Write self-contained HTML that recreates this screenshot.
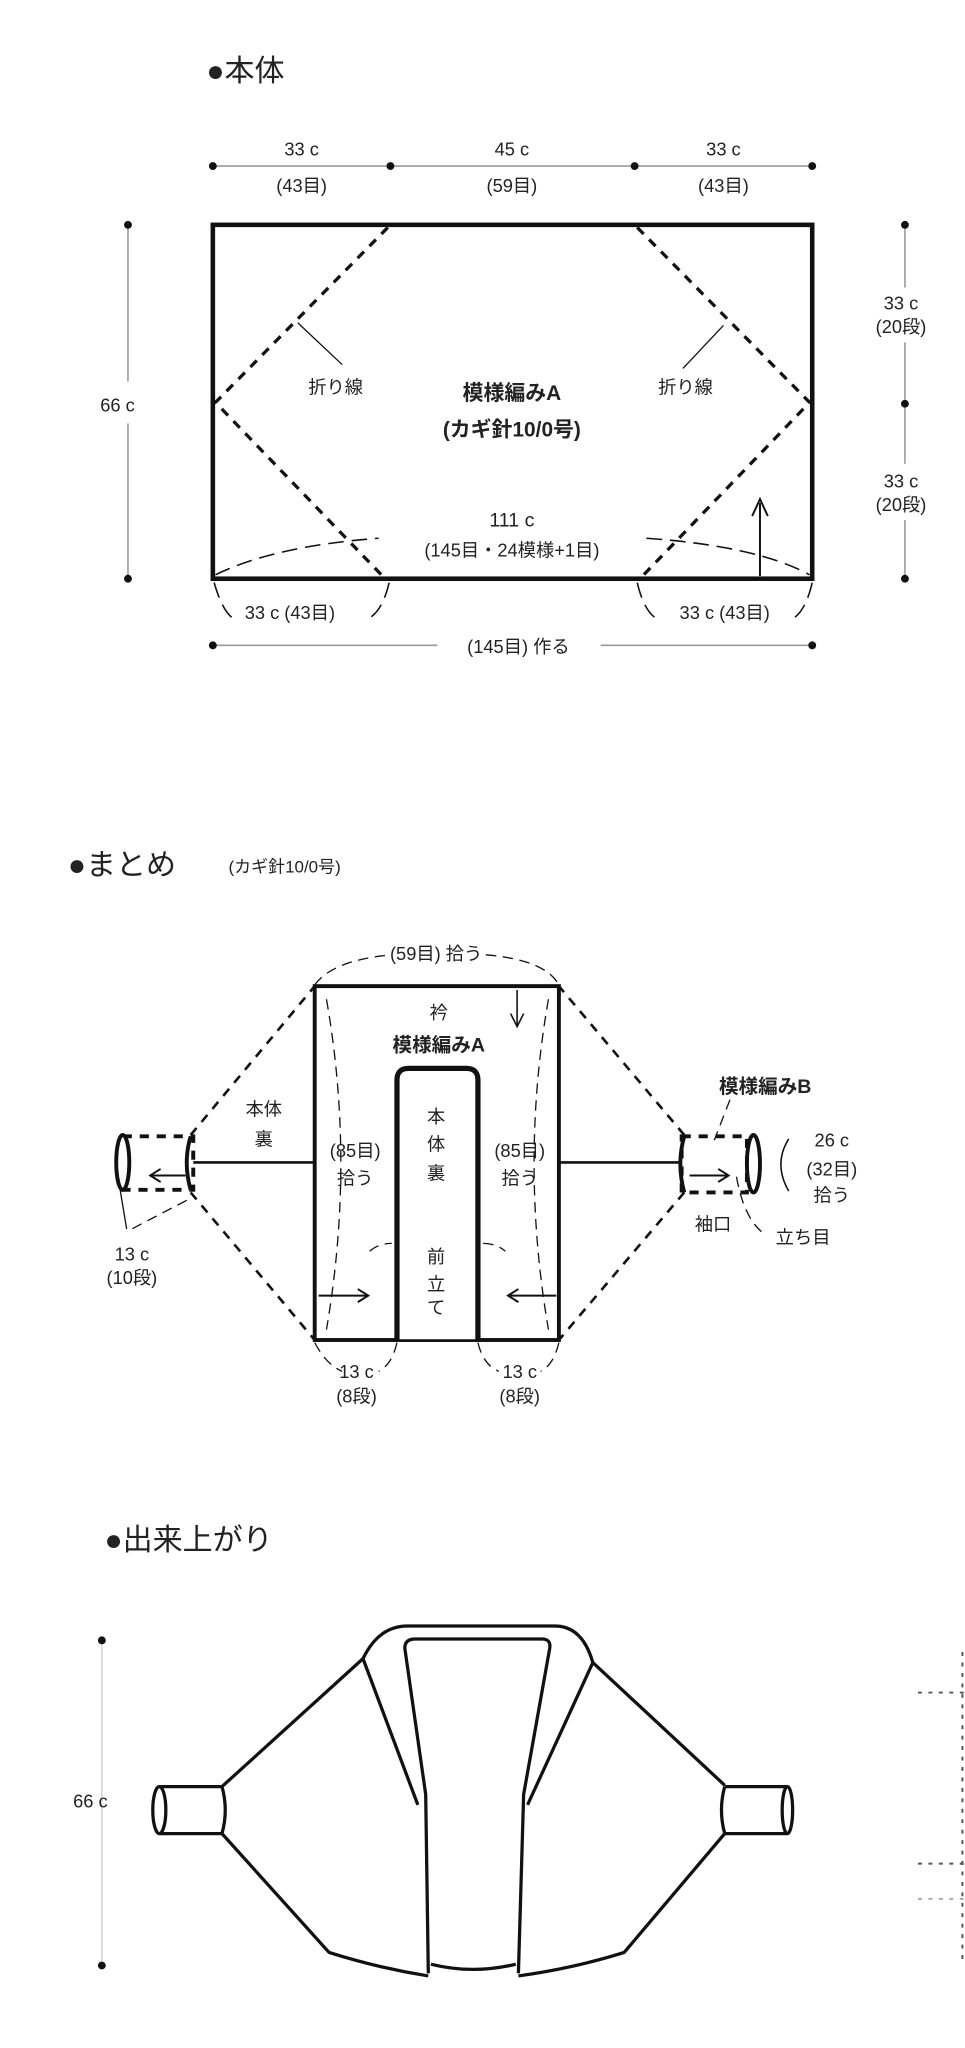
<!DOCTYPE html>
<html><head><meta charset="utf-8"><style>
html,body{margin:0;padding:0;background:#fff;}
svg{display:block;}
text{font-family:"Liberation Sans","Noto Sans CJK JP",sans-serif;fill:#222;}
</style></head><body>
<svg width="965" height="2048" viewBox="0 0 739 1568" xmlns="http://www.w3.org/2000/svg">
<g fill="none" stroke="#111">
<!-- TOP -->
<g stroke="#999" stroke-width="1.2">
<line x1="163" y1="127" x2="622" y2="127"/>
<line x1="98" y1="172" x2="98" y2="292"/><line x1="98" y1="324" x2="98" y2="443"/>
<line x1="693" y1="172" x2="693" y2="220"/><line x1="693" y1="262" x2="693" y2="355"/><line x1="693" y1="398" x2="693" y2="443"/>
<line x1="163" y1="494" x2="335" y2="494"/><line x1="460" y1="494" x2="622" y2="494"/>
</g>
<rect x="163" y="172" width="459" height="271" stroke-width="3.5"/>
<g stroke-width="2.5" stroke-dasharray="7,6">
<polyline points="297,174 165,308 293,441"/>
<polyline points="488,174 620,308 492,441"/>
</g>
<g stroke-width="1.2" stroke-dasharray="12,6">
<path d="M165,440 Q210,418 290,412"/><path d="M495,412 Q580,418 620,440"/>
<path d="M164,446 Q170,467 178,473"/><path d="M298,446 Q293,467 283,473"/>
<path d="M488,446 Q493,467 502,473"/><path d="M622,446 Q617,467 608,473"/>
</g>
<line x1="228" y1="247" x2="262" y2="279" stroke-width="1"/>
<line x1="554" y1="249" x2="523" y2="282" stroke-width="1"/>
<line x1="582" y1="441" x2="582" y2="385" stroke-width="1.5"/>
<path d="M576,395 L582,382 L588,395" stroke-width="1.5"/>
</g>
<g fill="#111">
<circle cx="163" cy="127" r="3"/><circle cx="299" cy="127" r="3"/><circle cx="486" cy="127" r="3"/><circle cx="622" cy="127" r="3"/>
<circle cx="98" cy="172" r="3"/><circle cx="98" cy="443" r="3"/>
<circle cx="693" cy="172" r="3"/><circle cx="693" cy="309" r="3"/><circle cx="693" cy="443" r="3"/>
<circle cx="163" cy="494" r="3"/><circle cx="622" cy="494" r="3"/>
</g>
<text x="158" y="62" font-size="23">●本体</text>
<g font-size="14" text-anchor="middle">
<text x="231" y="119">33 c</text><text x="231" y="147">(43目)</text>
<text x="392" y="119">45 c</text><text x="392" y="147">(59目)</text>
<text x="554" y="119">33 c</text><text x="554" y="147">(43目)</text>
<text x="90" y="315">66 c</text>
<text x="690" y="237">33 c</text><text x="690" y="255">(20段)</text>
<text x="690" y="373">33 c</text><text x="690" y="391">(20段)</text>
<text x="257" y="301">折り線</text><text x="525" y="301">折り線</text>
<text x="392" y="306" font-size="16" font-weight="bold">模様編みA</text>
<text x="392" y="334" font-size="16" font-weight="bold">(カギ針10/0号)</text>
<text x="392" y="403" font-size="15">111 c</text>
<text x="392" y="426">(145目・24模様+1目)</text>
<text x="222" y="474">33 c (43目)</text>
<text x="555" y="474">33 c (43目)</text>
<text x="397" y="500">(145目) 作る</text>
</g>

<!-- MIDDLE -->
<text x="52" y="670" font-size="23">●まとめ</text>
<text x="175" y="668" font-size="13">(カギ針10/0号)</text>
<g fill="none" stroke="#111">
<rect x="241" y="755" width="187" height="271" stroke-width="3"/>
<path d="M304,1026 V827 Q304,818 313,818 H357 Q366,818 366,827 V1026" stroke-width="4" fill="#fff"/>
<line x1="304" y1="1026" x2="366" y2="1026" stroke-width="1.2"/>
<line x1="148" y1="890" x2="241" y2="890" stroke-width="2"/>
<line x1="428" y1="890" x2="522" y2="890" stroke-width="2"/>
<g stroke-width="2" stroke-dasharray="7,6">
<line x1="146" y1="869" x2="241" y2="755"/><line x1="146" y1="913" x2="241" y2="1026"/>
<line x1="524" y1="869" x2="428" y2="755"/><line x1="524" y1="913" x2="428" y2="1026"/>
<rect x="94" y="870" width="54" height="41" stroke-width="3"/>
<rect x="522" y="870" width="50" height="43" stroke-width="3"/>
</g>
<ellipse cx="94" cy="890" rx="5" ry="21" stroke-width="3" fill="#fff"/>
<ellipse cx="577" cy="891" rx="5" ry="22" stroke-width="3" fill="#fff"/>
<path d="M146,870 Q140,890 146,911" stroke-width="3"/>
<path d="M524,870 Q518,891 524,913" stroke-width="3"/>
<line x1="142" y1="900" x2="115" y2="900" stroke-width="1.5"/><path d="M123,895 L115,900 L123,905" stroke-width="1.5"/>
<line x1="528" y1="900" x2="558" y2="900" stroke-width="1.5"/><path d="M550,895 L558,900 L550,905" stroke-width="1.5"/>
<line x1="244" y1="992" x2="282" y2="992" stroke-width="1.5"/><path d="M274,987 L282,992 L274,997" stroke-width="1.5"/>
<line x1="426" y1="992" x2="389" y2="992" stroke-width="1.5"/><path d="M397,987 L389,992 L397,997" stroke-width="1.5"/>
<line x1="396" y1="758" x2="396" y2="786" stroke-width="1.2"/><path d="M391,776 L396,786 L401,776" stroke-width="1.2"/>
<g stroke-width="1" stroke-dasharray="8,5">
<path d="M241,754 Q255,735 300,731"/><path d="M372,731 Q418,735 428,754"/>
<path d="M250,765 Q272,890 250,1018"/><path d="M420,765 Q398,890 420,1018"/>
<path d="M241,1028 Q250,1045 262,1050"/><path d="M304,1028 Q300,1045 290,1050"/>
<path d="M366,1028 Q370,1045 382,1050"/><path d="M428,1028 Q424,1045 414,1050"/>
<path d="M143,919 L97,943"/><path d="M283,958 Q290,952 300,952"/><path d="M370,952 Q380,952 387,958"/>
<path d="M564,901 Q570,935 587,946"/><path d="M559,842 L547,873"/>
</g>
<line x1="92" y1="911" x2="97" y2="941" stroke-width="1"/>
<path d="M604,872 Q592,891 604,912" stroke-width="1.2"/>
</g>
<g font-size="14" text-anchor="middle">
<text x="334" y="735">(59目) 拾う</text>
<text x="336" y="780">衿</text>
<text x="336" y="805" font-size="15" font-weight="bold">模様編みA</text>
<text x="202" y="854">本体</text><text x="202" y="877">裏</text>
<text x="272" y="886">(85目)</text><text x="272" y="907">拾う</text>
<text x="398" y="886">(85目)</text><text x="398" y="907">拾う</text>
<text x="334" y="860">本</text><text x="334" y="881">体</text><text x="334" y="903">裏</text>
<text x="334" y="967">前</text><text x="334" y="988">立</text><text x="334" y="1006">て</text>
<text x="586" y="837" font-size="15" font-weight="bold">模様編みB</text>
<text x="637" y="878">26 c</text><text x="637" y="900">(32目)</text><text x="637" y="920">拾う</text>
<text x="546" y="942">袖口</text><text x="615" y="952">立ち目</text>
<text x="101" y="965">13 c</text><text x="101" y="983">(10段)</text>
<text x="273" y="1055">13 c</text><text x="273" y="1074">(8段)</text>
<text x="398" y="1055">13 c</text><text x="398" y="1074">(8段)</text>
</g>

<!-- BOTTOM -->
<text x="80" y="1187" font-size="23">●出来上がり</text>
<line x1="78" y1="1256" x2="78" y2="1505" stroke="#ccc" stroke-width="1"/>
<circle cx="78" cy="1256" r="3" fill="#111"/><circle cx="78" cy="1505" r="3" fill="#111"/>
<text x="56" y="1384" font-size="14">66 c</text>
<g fill="none" stroke="#111" stroke-width="2.5" stroke-linejoin="round">
<path d="M278,1270 Q290,1245 312,1245 H425 Q446,1245 454,1273"/>
<path d="M328,1511 L326,1374 L310,1262 Q310,1255 318,1255 H415 Q422,1255 421,1262 L401,1374 L397,1511"/>
<path d="M278,1270 L320,1382"/><path d="M454,1273 L404,1382"/>
<path d="M278,1270 L170,1368"/><path d="M454,1273 L555,1367"/>
<path d="M170,1404 L252,1495 Q290,1507 328,1513"/>
<path d="M555,1404 L478,1495 Q440,1507 397,1513"/>
<path d="M330,1504 Q362,1512 395,1504"/>
<path d="M170,1368 H122 M122,1404 H170 M170,1368 Q175,1386 170,1404"/>
<path d="M555,1368 H603 M603,1404 H555 M555,1368 Q550,1386 555,1404"/>
<ellipse cx="122" cy="1386" rx="5" ry="18"/>
<ellipse cx="603" cy="1386" rx="4" ry="18"/>
</g>
<g stroke="#555" stroke-width="1.5" stroke-dasharray="3,5" fill="none">
<line x1="703" y1="1296" x2="739" y2="1296"/>
<line x1="703" y1="1427" x2="739" y2="1427"/>
<line x1="703" y1="1454" x2="739" y2="1454" stroke="#aaa"/>
<line x1="737" y1="1265" x2="737" y2="1500"/>
</g>
</svg>
</body></html>
